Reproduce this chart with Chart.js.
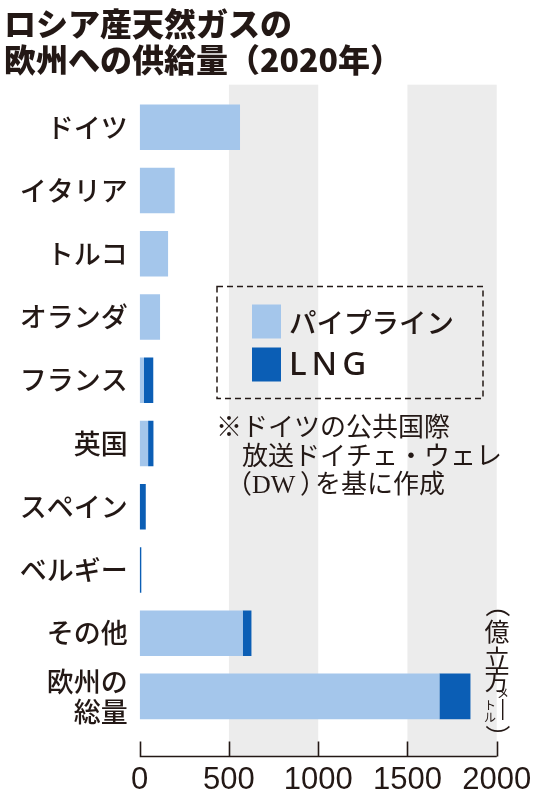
<!DOCTYPE html>
<html lang="ja">
<head>
<meta charset="utf-8">
<title>ロシア産天然ガスの欧州への供給量（2020年）</title>
<script src="https://cdn.jsdelivr.net/npm/chart.js@4"></script>
<style>
  html, body { margin: 0; padding: 0; background: #fff; }
  canvas { display: block; }
</style>
</head>
<body>
<canvas id="chart" width="533" height="800"></canvas>
<script>
// ロシア産天然ガスの欧州への供給量（2020年）, 単位: 億立方メートル
// 値は元図から読み取った推定値。
const COUNTRIES = ["ドイツ", "イタリア", "トルコ", "オランダ", "フランス", "英国",
  "スペイン", "ベルギー", "その他", ["欧州の", "総量"]];
const PIPELINE = [562, 196, 159, 114, 24, 47, 0, 0, 577, 1679];
const LNG = [0, 0, 0, 0, 52, 30, 34, 9, 49, 174];
const X_TICKS = ["0", "500", "1000", "1500", "2000"];
const TITLE = ["ロシア産天然ガスの", "欧州への供給量（2020年）"];
const NOTE = ["※ドイツの公共国際", "放送ドイチェ・ウェレ", "（DW）を基に作成"];

(function () {
  "use strict";

  const INK = "#231815";
  const LIGHT = "#a4c6eb";
  const DARK = "#0b5eb5";
  const BAND = "#ececec";
  const JP = "'Noto Sans CJK JP', sans-serif";

  // bands: grey stripes behind 500–1000 and 1500–2000, a bit taller than the bars
  const bands = {
    id: "bands",
    beforeDatasetsDraw(chart) {
      const { ctx, chartArea } = chart;
      const x = chart.scales.x;
      const top = chartArea.top - 11;
      const bottom = chartArea.bottom + 28;
      ctx.save();
      ctx.fillStyle = BAND;
      [[500, 1000], [1500, 2000]].forEach(([a, b]) => {
        const l = x.getPixelForValue(a);
        ctx.fillRect(l, top, x.getPixelForValue(b) - l, bottom - top);
      });
      ctx.restore();
    },
  };

  // baseAxis: the axis line with upward ticks sits below the bars
  const baseAxis = {
    id: "baseAxis",
    afterDatasetsDraw(chart) {
      const { ctx, chartArea } = chart;
      const x = chart.scales.x;
      const y = chartArea.bottom + 28.5;
      ctx.save();
      ctx.strokeStyle = INK;
      ctx.lineWidth = 1.6;
      ctx.beginPath();
      ctx.moveTo(x.getPixelForValue(0), y);
      ctx.lineTo(x.getPixelForValue(2000), y);
      x.ticks.forEach((t) => {
        const px = Math.round(x.getPixelForValue(t.value)) + 0.5;
        ctx.moveTo(px, y);
        ctx.lineTo(px, y - 15);
      });
      ctx.stroke();
      ctx.restore();
    },
  };

  // drawRun writes a line piece by piece so the full-width parens sit tight
  function drawRun(ctx, parts, x, y) {
    parts.forEach(([text, dx]) => ctx.fillText(text, x + dx, y));
  }

  // rotatedChar draws one glyph turned a quarter clockwise (vertical parens)
  function rotatedChar(ctx, ch, x, y) {
    ctx.save();
    ctx.translate(x, y);
    ctx.rotate(Math.PI / 2);
    ctx.fillText(ch, 0, 0);
    ctx.restore();
  }

  // notes: dashed legend box, source note and vertical unit label
  const notes = {
    id: "notes",
    afterDraw(chart) {
      const { ctx } = chart;
      ctx.save();
      ctx.strokeStyle = INK;
      ctx.lineWidth = 1.5;
      ctx.setLineDash([6, 4]);
      ctx.strokeRect(217, 286.5, 266, 112);
      ctx.setLineDash([]);

      ctx.textBaseline = "middle";
      ctx.textAlign = "left";
      chart.data.datasets.forEach((ds, i) => {
        const cy = 321.5 + i * 43;
        ctx.fillStyle = ds.backgroundColor;
        ctx.fillRect(252, cy - 17, 29, 34);
        ctx.fillStyle = INK;
        if (i === 1) {
          ctx.font = "500 33px 'Noto Sans', " + JP;
          ctx.letterSpacing = "5px";
        } else {
          ctx.font = "500 27.5px " + JP;
          ctx.letterSpacing = "0px";
        }
        ctx.fillText(ds.label, 289, cy + 1);
      });
      ctx.letterSpacing = "0px";

      ctx.font = "26px 'Liberation Serif', " + JP;
      ctx.fillText(NOTE[0], 216, 429);
      ctx.fillText(NOTE[1], 242, 458);
      const line3 = NOTE[2];
      drawRun(ctx, [
        [line3.slice(0, 1), 3],
        [line3.slice(1, 3), 29],
        [line3.slice(3, 4), 77],
        [line3.slice(4), 92],
      ], 223, 486);

      // unit: （億立方メートル）, vertical
      const cx = 497;
      ctx.textAlign = "center";
      ctx.font = "25px " + JP;
      rotatedChar(ctx, "（", cx, 605);
      ctx.fillText("億", cx, 631);
      ctx.fillText("立", cx, 658);
      ctx.fillText("方", cx, 680);
      ctx.font = "12px " + JP;
      ctx.fillText("メ", 503, 693);
      ctx.fillText("ト", 490, 705);
      ctx.fillText("ル", 490, 717);
      ctx.fillRect(502, 699, 1.4, 21);
      ctx.font = "25px " + JP;
      rotatedChar(ctx, "）", cx, 737);
      ctx.restore();
    },
  };

  new Chart(document.getElementById("chart"), {
    type: "bar",
    data: {
      labels: COUNTRIES,
      datasets: [
        { label: "パイプライン", data: PIPELINE, backgroundColor: LIGHT },
        { label: "LNG", data: LNG, backgroundColor: DARK },
      ],
    },
    options: {
      indexAxis: "y",
      responsive: false,
      animation: false,
      devicePixelRatio: 1,
      layout: { padding: { left: 4, right: 36.3, top: 6, bottom: 0 } },
      datasets: {
        bar: { categoryPercentage: 1, barPercentage: 0.72, borderWidth: 0 },
      },
      scales: {
        x: {
          stacked: true,
          min: 0,
          max: 2000,
          grid: { display: false, drawTicks: false },
          border: { display: false },
          ticks: {
            stepSize: 500,
            padding: 34,
            color: INK,
            maxRotation: 0,
            autoSkip: false,
            font: { family: "'Liberation Sans', sans-serif", size: 31 },
            callback: (v, i) => X_TICKS[i],
          },
          afterFit: (s) => {
            s.height = 72;
            s.paddingLeft = 0;
            s.paddingRight = 0;
          },
        },
        y: {
          stacked: true,
          grid: { display: false, drawTicks: false },
          border: { display: false },
          ticks: {
            padding: 12,
            autoSkip: false,
            color: INK,
            font: { family: JP, size: 27, weight: "500", lineHeight: 1.12 },
          },
          afterFit: (s) => { s.width = 135.7; },
        },
      },
      plugins: {
        legend: { display: false },
        tooltip: { enabled: false },
        title: {
          display: true,
          text: TITLE,
          align: "start",
          color: INK,
          font: { family: JP, size: 32, weight: "900", lineHeight: 1.12 },
          padding: { top: 0, bottom: 18 },
        },
      },
    },
    plugins: [bands, baseAxis, notes],
  });
})();
</script>
</body>
</html>
